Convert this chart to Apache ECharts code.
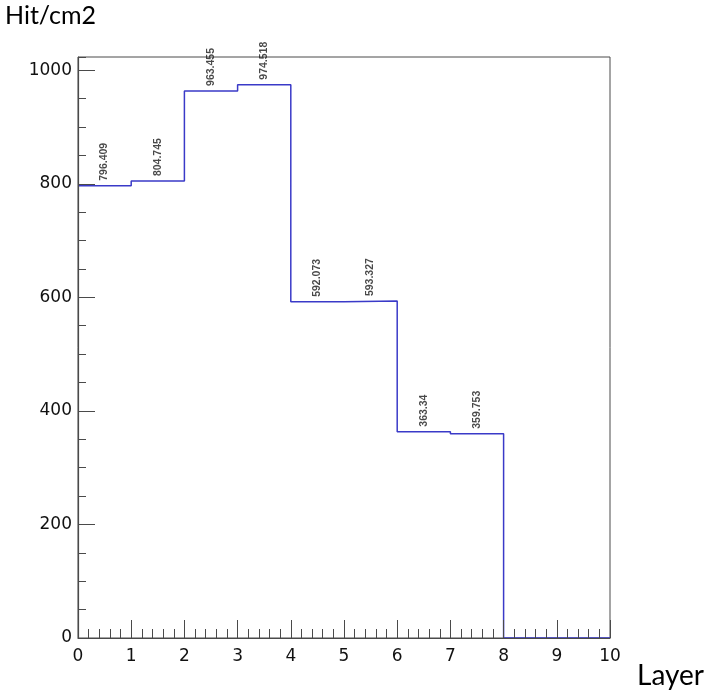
<!DOCTYPE html>
<html>
<head>
<meta charset="utf-8">
<title>Hit/cm2 per Layer</title>
<script src="https://cdn.jsdelivr.net/npm/echarts@6/dist/echarts.min.js"></script>
<style>
  html, body { margin: 0; padding: 0; background: #ffffff; }
  #chart { width: 704px; height: 690px; }
</style>
</head>
<body>
<div id="chart"></div>
<script>
// Histogram bins (layer index edges) and hit densities per bin
const binEdges = [0, 1, 2, 3, 4, 5, 6, 7, 8, 9, 10];
const hitDensity = [796.409, 804.745, 963.455, 974.518, 592.073, 593.327, 363.34, 359.753, 0, 0];
const yTicks = [0, 200, 400, 600, 800, 1000];
const xTicks = [0, 1, 2, 3, 4, 5, 6, 7, 8, 9, 10];

// ROOT-style upper range: 5% headroom above the tallest bin
const yMax = Math.max.apply(null, hitDensity) * 1.05;

// Step outline: one point per left bin edge, closing at the last edge
const stepPoints = hitDensity.map((v, i) => [binEdges[i], v]);
stepPoints.push([binEdges[binEdges.length - 1], 0]);

// Value text sits above the centre of every filled bin
const labelPoints = hitDensity
  .map((v, i) => ({ value: [(binEdges[i] + binEdges[i + 1]) / 2, v] }))
  .filter(p => p.value[1] > 0);

const axisGray = '#4a4a4a';
const tickFont = 'DejaVu Sans';

const chart = echarts.init(document.getElementById('chart'), null, { renderer: 'canvas' });

chart.setOption({
  animation: false,
  backgroundColor: '#ffffff',
  grid: {
    left: 78, right: 94, top: 57, bottom: 52,
    show: true, borderColor: axisGray, borderWidth: 1, backgroundColor: 'transparent'
  },
  graphic: [
    {
      type: 'text', left: 5, top: 3,
      style: { text: 'Hit/cm2', font: '25px Lato', fill: '#000000' }
    },
    {
      type: 'text', left: 637, top: 662,
      style: { text: 'Layer', font: '28px Lato', fill: '#000000' }
    }
  ],
  xAxis: {
    type: 'value', min: xTicks[0], max: xTicks[xTicks.length - 1], interval: 1,
    z: 5,
    axisLine: { show: true, onZero: false, lineStyle: { color: axisGray, width: 1.2 } },
    axisTick: { show: true, inside: true, length: 18, lineStyle: { color: axisGray } },
    minorTick: { show: true, splitNumber: 5, length: 9, lineStyle: { color: axisGray } },
    splitLine: { show: false },
    axisLabel: {
      show: true, margin: 10, color: '#111111',
      fontFamily: tickFont, fontSize: 17,
      formatter: v => (xTicks.indexOf(v) >= 0 ? String(v) : '')
    }
  },
  yAxis: [
    {
      type: 'value', min: 0, max: yMax, interval: 200,
      z: 5,
      axisLine: { show: true, lineStyle: { color: axisGray, width: 1.2 } },
      axisTick: { show: true, inside: true, length: 17, lineStyle: { color: axisGray } },
      splitLine: { show: false },
      axisLabel: {
        show: true, margin: 6, color: '#111111',
        fontFamily: tickFont, fontSize: 17,
        showMaxLabel: false,
        formatter: v => (yTicks.indexOf(v) >= 0 ? String(v) : '')
      }
    },
    {
      // minor ticks every 50 along the left edge
      type: 'value', min: 0, max: yMax, interval: 50, position: 'left',
      axisLine: { show: false },
      axisTick: { show: true, inside: true, length: 8, lineStyle: { color: axisGray } },
      axisLabel: { show: false },
      splitLine: { show: false }
    }
  ],
  series: [
    {
      type: 'line',
      step: 'end',
      data: stepPoints,
      symbol: 'none',
      lineStyle: { color: '#3a3ac8', width: 1.5 },
      z: 3
    },
    {
      type: 'scatter',
      data: labelPoints,
      symbolSize: 0,
      itemStyle: { color: 'transparent' },
      label: {
        show: true,
        position: 'top',
        distance: 5,
        rotate: 90,
        align: 'left',
        verticalAlign: 'middle',
        fontFamily: 'Liberation Sans',
        fontWeight: 'bold',
        fontSize: 10.5,
        color: '#1a1a1a',
        formatter: p => String(p.value[1])
      },
      z: 4
    }
  ]
});
</script>
</body>
</html>
